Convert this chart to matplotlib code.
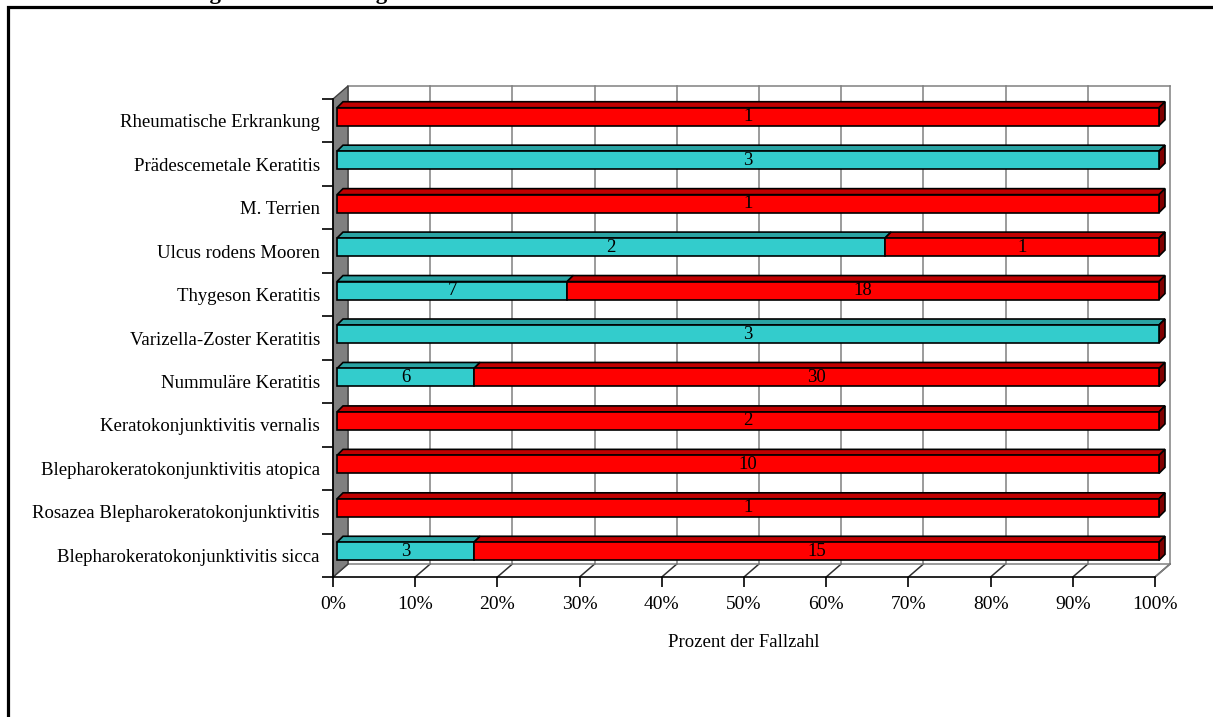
import numpy as np
import matplotlib
matplotlib.use("Agg")
import matplotlib.pyplot as plt
from matplotlib.patches import Polygon, Rectangle

plt.rcParams["font.family"] = ["Liberation Serif", "DejaVu Serif"]

# Data (bottom to top)
categories = [
    "Blepharokeratokonjunktivitis sicca",
    "Rosazea Blepharokeratokonjunktivitis",
    "Blepharokeratokonjunktivitis atopica",
    "Keratokonjunktivitis vernalis",
    "Nummuläre Keratitis",
    "Varizella-Zoster Keratitis",
    "Thygeson Keratitis",
    "Ulcus rodens Mooren",
    "M. Terrien",
    "Prädescemetale Keratitis",
    "Rheumatische Erkrankung",
]
cyan_counts = [3, 0, 0, 0, 6, 3, 7, 2, 0, 3, 0]
red_counts = [15, 1, 10, 2, 30, 0, 18, 1, 1, 0, 1]
x_ticks = list(range(0, 101, 10))
x_ticklabels = [f"{t}%" for t in x_ticks]
x_label = "Prozent der Fallzahl"
title = "Geschlechtsverteilung der Erkrankungen"

W, H = 1213, 717
fig = plt.figure(figsize=(W / 100, H / 100), dpi=100)
ax = fig.add_axes([333 / W, 1 - 577 / H, 822 / W, 478 / H])
ax.set_xlim(0, 100)
ax.set_ylim(-0.5, len(categories) - 0.5)
ax.patch.set_alpha(0)

# pixel -> data conversion for the 3D depth effect
sx = 100 / 822
sy = len(categories) / 478
DX, DY = 15 * sx, 13 * sy        # wall depth
B0X, B0Y = 4 * sx, 4 * sy        # bar front offset
BDX, BDY = 6 * sx, 6 * sy        # bar thickness
bar_h = 18 * sy
ymin, ymax = -0.5, len(categories) - 0.5

grid_c = "#808080"
# back wall grid
for t in x_ticks:
    ax.plot([t + DX, t + DX], [ymin + DY, ymax + DY], color=grid_c, lw=1.1,
            clip_on=False, zorder=1)
    ax.plot([t, t + DX], [ymin, ymin + DY], color="#303030", lw=1.1,
            clip_on=False, zorder=1)
ax.plot([DX, 100 + DX], [ymax + DY, ymax + DY], color=grid_c, lw=1.1, clip_on=False, zorder=1)
ax.plot([DX, 100 + DX], [ymin + DY, ymin + DY], color=grid_c, lw=1.1, clip_on=False, zorder=1)
ax.plot([100, 100 + DX], [ymin, ymin + DY], color=grid_c, lw=1.1, clip_on=False, zorder=1)

# left wall
ax.add_patch(Polygon([(0, ymin), (0, ymax), (DX, ymax + DY), (DX, ymin + DY)],
                     closed=True, facecolor="#808080", edgecolor="#404040",
                     lw=1.0, clip_on=False, zorder=2))

cyan, cyan_top = "#33CCCC", "#2AA3A3"
red, red_top, dark = "#FF0000", "#C00000", "#800000"


def draw_segment(y, left, right, face, top, value):
    x0, x1 = left + B0X, right + B0X
    y0, y1 = y - bar_h / 2 + B0Y, y + bar_h / 2 + B0Y
    ax.add_patch(Polygon([(x0, y1), (x1, y1), (x1 + BDX, y1 + BDY), (x0 + BDX, y1 + BDY)],
                         closed=True, facecolor=top, edgecolor="black", lw=1.2,
                         clip_on=False, zorder=4))
    ax.add_patch(Rectangle((x0, y0), x1 - x0, y1 - y0, facecolor=face,
                           edgecolor="black", lw=1.2, clip_on=False, zorder=5))
    ax.text((x0 + x1) / 2, (y0 + y1) / 2, str(value), ha="center", va="center",
            fontsize=13.5, zorder=6)


for i, (c, r) in enumerate(zip(cyan_counts, red_counts)):
    total = c + r
    pc = 100 * c / total
    if c:
        draw_segment(i, 0, pc, cyan, cyan_top, c)
    if r:
        draw_segment(i, pc, 100, red, red_top, r)
    y0, y1 = i - bar_h / 2 + B0Y, i + bar_h / 2 + B0Y
    xe = 100 + B0X
    ax.add_patch(Polygon([(xe, y0), (xe, y1), (xe + BDX, y1 + BDY), (xe + BDX, y0 + BDY)],
                         closed=True, facecolor=dark, edgecolor="black", lw=1.2,
                         clip_on=False, zorder=4))

# axes
for s in ["top", "right"]:
    ax.spines[s].set_visible(False)
for s in ["left", "bottom"]:
    ax.spines[s].set_linewidth(1.2)
    ax.spines[s].set_zorder(3)
ax.set_yticks(range(len(categories)))
ax.set_yticklabels(categories, fontsize=13.5)
ax.set_yticks(np.arange(ymin, ymax + 0.01, 1), minor=True)
ax.tick_params(axis="y", which="major", length=0, pad=9.5)
ax.tick_params(axis="y", which="minor", length=8, width=1.2)
ax.set_xticks(x_ticks)
ax.set_xticklabels(x_ticklabels, fontsize=14)
ax.tick_params(axis="x", length=7.5, width=1.2, pad=6.5)
ax.set_xlabel(x_label, fontsize=13.5, labelpad=15)

# outer frame and (cropped) title
fig.patches.append(Rectangle((8 / W, -0.1), 1.2, 1 - 7 / H + 0.1, fill=False,
                             edgecolor="black", lw=2.3, transform=fig.transFigure))
fig.text(6 / W, 1 + 1 / H, title, fontsize=16.5, fontweight="bold", va="baseline")

fig.savefig("out.png", dpi=100)
